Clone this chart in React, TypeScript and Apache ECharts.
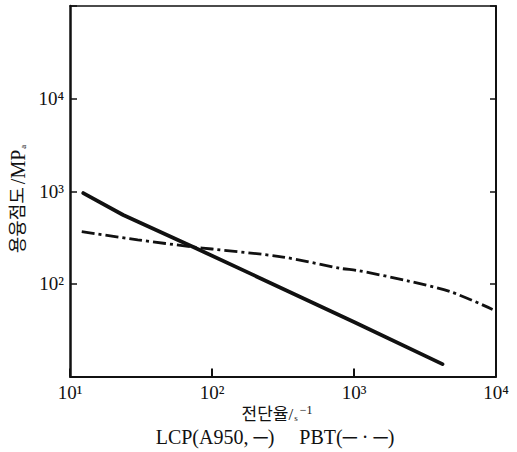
import React, { useEffect, useRef } from "react";
import * as echarts from "echarts";

const lcpShear = [12.4, 23.7, 73.8, 195, 1000, 4200];
const lcpViscosity = [955, 554, 250, 125, 38.8, 13.6];

const pbtShear = [12.1, 30, 73.8, 100, 316, 804, 1070, 2380, 4810, 9460];
const pbtViscosity = [366, 299, 250, 238, 195, 147, 139, 108, 82, 53];

const xTickLabels: Record<number, string> = { 1: "10¹", 2: "10²", 3: "10³", 4: "10⁴" };
const yTickLabels: Record<number, string> = { 2: "10²", 3: "10³", 4: "10⁴" };

const FONT = "'Liberation Serif', 'DejaVu Serif', 'Noto Sans CJK KR', serif";
const INK = "#111";

const tickLabel = (map: Record<number, string>) => (v: number) => {
  const e = Math.round(Math.log10(v));
  return map[e] ?? "";
};

export default function App() {
  const ref = useRef<HTMLDivElement>(null);
  useEffect(() => {
    if (!ref.current) return;
    const chart = echarts.init(ref.current, null, { renderer: "svg" });
    chart.setOption({
      animation: false,
      backgroundColor: "#fff",
      textStyle: { fontFamily: FONT, color: INK },
      grid: { left: 70, right: 21, top: 6, bottom: 75.5, containLabel: false },
      xAxis: [
        {
          type: "log",
          logBase: 10,
          min: 10,
          max: 10000,
          position: "bottom",
          axisLine: { show: true, lineStyle: { color: INK, width: 2 } },
          axisTick: { show: true, inside: true, length: 8, lineStyle: { color: INK, width: 2 } },
          axisLabel: {
            formatter: tickLabel(xTickLabels),
            fontSize: 19,
            fontFamily: FONT,
            color: INK,
            margin: 6,
          },
          splitLine: { show: false },
          minorTick: { show: false },
        },
        {
          type: "log",
          logBase: 10,
          min: 10,
          max: 10000,
          position: "top",
          axisLine: { show: true, lineStyle: { color: INK, width: 1.5 } },
          axisTick: { show: false },
          axisLabel: { show: false },
          splitLine: { show: false },
        },
      ],
      yAxis: [
        {
          type: "log",
          logBase: 10,
          min: 10,
          max: 100000,
          position: "left",
          axisLine: { show: true, lineStyle: { color: INK, width: 2.5 } },
          axisTick: { show: true, inside: true, length: 7, lineStyle: { color: INK, width: 1.5 } },
          axisLabel: {
            formatter: tickLabel(yTickLabels),
            fontSize: 19,
            fontFamily: FONT,
            color: INK,
            margin: 6,
          },
          splitLine: { show: false },
        },
        {
          type: "log",
          logBase: 10,
          min: 10,
          max: 100000,
          position: "right",
          axisLine: { show: true, lineStyle: { color: INK, width: 2 } },
          axisTick: { show: true, inside: true, length: 6, lineStyle: { color: INK, width: 1.5 } },
          axisLabel: { show: false },
          splitLine: { show: false },
        },
      ],
      graphic: [
        {
          type: "text",
          x: 18,
          y: 199,
          rotation: Math.PI / 2,
          style: {
            text: "{n|용융점도}{m|/MP}{s|a}",
            align: "center",
            verticalAlign: "middle",
            rich: {
              n: { fontSize: 18, fontFamily: FONT, fill: INK, padding: [0, 3, 0, 0] },
              m: { fontSize: 20, fontFamily: FONT, fill: INK },
              s: { fontSize: 9, fontFamily: FONT, fill: INK, padding: [9, 0, 0, 1] },
            },
          },
        },
        {
          type: "text",
          x: 277,
          y: 414,
          style: {
            text: "{n|전단율/}{s|s}{e|−1}",
            align: "center",
            verticalAlign: "middle",
            rich: {
              n: { fontSize: 17, fontFamily: FONT, fill: INK },
              s: { fontSize: 9, fontFamily: FONT, fill: INK, padding: [7, 0, 0, 1] },
              e: { fontSize: 12, fontFamily: FONT, fill: INK, padding: [0, 0, 9, 2] },
            },
          },
        },
      ],
      title: {
        text: "LCP(A950, ─)     PBT(─ · ─)",
        left: 270,
        textAlign: "center",
        top: 422,
        textStyle: { fontSize: 20, fontWeight: "normal", fontFamily: FONT, color: INK },
      },
      series: [
        {
          name: "LCP",
          type: "line",
          xAxisIndex: 0,
          yAxisIndex: 0,
          showSymbol: false,
          symbol: "none",
          data: lcpShear.map((x, i) => [x, lcpViscosity[i]]),
          lineStyle: { color: INK, width: 3.8, cap: "round" },
        },
        {
          name: "PBT",
          type: "line",
          xAxisIndex: 0,
          yAxisIndex: 0,
          showSymbol: false,
          symbol: "none",
          smooth: 0.3,
          data: pbtShear.map((x, i) => [x, pbtViscosity[i]]),
          lineStyle: { color: INK, width: 2.8, type: [13, 4, 3, 4] },
        },
      ],
    });
    return () => chart.dispose();
  }, []);
  return <div ref={ref} style={{ width: 517, height: 452, position: "absolute", left: 0, top: 0 }} />;
}
